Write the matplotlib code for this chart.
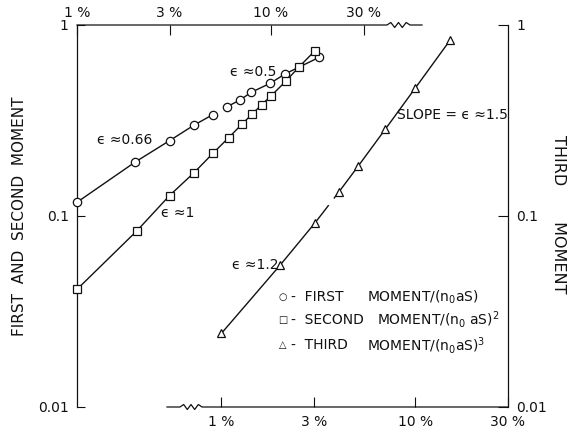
import matplotlib
matplotlib.use("Agg")
import matplotlib.pyplot as plt
import numpy as np
from matplotlib.lines import Line2D
from matplotlib.ticker import NullLocator

# ---------------- data ----------------
first_x = [1.0, 2.0, 3.0, 4.0, 5.0, 5.9, 6.95, 7.9, 9.9, 11.8, 17.7]
first_y = [0.118, 0.192, 0.248, 0.2985, 0.339, 0.372, 0.406, 0.444, 0.495, 0.554, 0.677]

second_x = [1.0, 2.03, 3.0, 4.01, 5.04, 6.05, 7.09, 7.98, 8.96, 10.0, 11.9, 13.9, 16.8]
second_y = [0.0413, 0.0834, 0.128, 0.1685, 0.2138, 0.257, 0.303, 0.341, 0.383, 0.425,
            0.507, 0.601, 0.731]

third_x = [1.0, 2.01, 3.04, 4.04, 5.08, 6.98, 9.96, 15.1]
third_y = [0.0243, 0.0554, 0.0922, 0.134, 0.183, 0.284, 0.466, 0.834]

top_ticks = [1, 3, 10, 30]
top_labels = ["1 %", "3 %", "10 %", "30 %"]
bottom_ticks = [1, 3, 10, 30]
bottom_labels = ["1 %", "3 %", "10 %", "30 %"]
y_ticks = [0.01, 0.1, 1]
y_labels = ["0.01", "0.1", "1"]

# ---------------- layout ----------------
W, H = 572, 428
fig = plt.figure(figsize=(W / 100, H / 100), dpi=100)
fig.patch.set_facecolor("white")

def fx(px):
    return px / W

def fy(py):
    return 1 - py / H

L, R, T, B = 77, 508, 25, 407
rect = [fx(L), fy(B), (R - L) / W, (B - T) / H]
decades_x = (R - L) / 194.0

FS = 10
black = "#111111"

# primary axes: first and second moment (top x-axis, left y-axis)
ax = fig.add_axes(rect)
ax.set_xscale("log")
ax.set_yscale("log")
ax.set_xlim(1, 10 ** decades_x)
ax.set_ylim(0.01, 1)
ax.xaxis.tick_top()
ax.set_xticks(top_ticks)
ax.set_xticklabels(top_labels)
ax.set_yticks(y_ticks)
ax.set_yticklabels(y_labels)
ax.xaxis.set_minor_locator(NullLocator())
ax.yaxis.set_minor_locator(NullLocator())
ax.tick_params(axis="x", which="both", direction="in", length=7, width=0.8,
               top=True, bottom=False, labeltop=True, labelbottom=False,
               labelsize=FS, pad=3.5, colors=black)
ax.tick_params(axis="y", which="both", direction="in", length=6, width=0.8,
               left=True, right=False, labelsize=FS, pad=6, colors=black)
ax.spines["top"].set_visible(False)
ax.spines["bottom"].set_visible(False)
for s in ("left", "right"):
    ax.spines[s].set_linewidth(0.9)
    ax.spines[s].set_color(black)

# secondary axes: third moment (bottom x-axis, right y-axis)
ax3 = fig.add_axes(rect)
ax3.patch.set_visible(False)
ax3.set_xscale("log")
ax3.set_yscale("log")
ax3.set_xlim(30 / 10 ** decades_x, 30)
ax3.set_ylim(0.01, 1)
ax3.xaxis.tick_bottom()
ax3.yaxis.tick_right()
ax3.set_xticks(bottom_ticks)
ax3.set_xticklabels(bottom_labels)
ax3.set_yticks(y_ticks)
ax3.set_yticklabels(y_labels)
ax3.xaxis.set_minor_locator(NullLocator())
ax3.yaxis.set_minor_locator(NullLocator())
ax3.tick_params(axis="x", which="both", direction="in", length=7, width=0.8,
                labelsize=FS, pad=5.5, colors=black)
ax3.tick_params(axis="y", which="both", direction="in", length=7, width=0.8,
                labelsize=FS, pad=6, colors=black)
for s in ax3.spines.values():
    s.set_visible(False)

# ---------------- data marks ----------------
lw = 1.0
# first moment: two line segments (gap between 5th and 6th points)
ax.plot(first_x[:5], first_y[:5], color=black, lw=lw, zorder=2, clip_on=False)
ax.plot(first_x[5:], first_y[5:], color=black, lw=lw, zorder=2, clip_on=False)
ax.plot(first_x, first_y, ls="none", marker="o", ms=6, mfc="white", mec=black,
        mew=0.9, zorder=3, clip_on=False)

# second moment
ax.plot(second_x, second_y, color=black, lw=lw, zorder=2, clip_on=False)
ax.plot(second_x, second_y, ls="none", marker="s", ms=5.5, mfc="white", mec=black,
        mew=0.9, zorder=3, clip_on=False)

# third moment: small break in the line between 3rd and 4th points
lx = np.log10(third_x)
ly = np.log10(third_y)
def interp(f):
    return 10 ** (lx[2] + f * (lx[3] - lx[2])), 10 ** (ly[2] + f * (ly[3] - ly[2]))
g0x, g0y = interp(0.55)
g1x, g1y = interp(0.8)
ax3.plot(list(third_x[:3]) + [g0x], list(third_y[:3]) + [g0y], color=black, lw=lw, zorder=2)
ax3.plot([g1x] + list(third_x[3:]), [g1y] + list(third_y[3:]), color=black, lw=lw, zorder=2)
ax3.plot(third_x, third_y, ls="none", marker="^", ms=5.5, mfc="white", mec=black,
         mew=0.9, zorder=3, clip_on=False)

# ---------------- broken axis lines ----------------
def broken_line(axis, y, x0, z0, z1, x1, amp):
    n = 6
    zx = np.linspace(z0, z1, n + 1)
    zy = np.array([y] + [y + (amp if i % 2 == 0 else -amp) for i in range(n - 1)] + [y])
    xs = np.concatenate([[x0], zx, [x1]])
    ys = np.concatenate([[y], zy, [y]])
    axis.add_line(Line2D(xs, ys, transform=axis.transAxes, color=black, lw=0.9,
                         clip_on=False))

amp = 2.5 / (B - T)
broken_line(ax, 1.0, 0.0, (387 - L) / (R - L), (410 - L) / (R - L), (422 - L) / (R - L), amp)
broken_line(ax, 0.0, (167 - L) / (R - L), (180 - L) / (R - L), (202 - L) / (R - L), 1.0, amp)

# ---------------- annotations ----------------
def t(px, py, s, **kw):
    kw.setdefault("fontsize", FS)
    kw.setdefault("ha", "center")
    kw.setdefault("va", "center")
    kw.setdefault("color", black)
    fig.text(fx(px), fy(py), s, **kw)

t(253, 72, "ϵ ≈0.5")
t(125, 140, "ϵ ≈0.66")
t(178, 213, "ϵ ≈1")
t(255, 265, "ϵ ≈1.2")
t(452, 115, "SLOPE = ϵ ≈1.5")

# legend-like text
t(283, 297, "○", fontsize=7)
t(283, 320, "□", fontsize=7)
t(283, 345, "△", fontsize=7)
t(291, 297, "-  FIRST", ha="left")
t(291, 320, "-  SECOND", ha="left")
t(291, 345, "-  THIRD", ha="left")
t(367, 297, r"MOMENT/($\mathregular{n_0}$aS)", ha="left")
t(377, 320, r"MOMENT/($\mathregular{n_0}$ aS)$\mathregular{^2}$", ha="left")
t(367, 345, r"MOMENT/($\mathregular{n_0}$aS)$\mathregular{^3}$", ha="left")

# axis titles
t(20, 216, "FIRST  AND  SECOND  MOMENT", rotation=90, fontsize=11)
t(558, 214, "THIRD       MOMENT", rotation=-90, fontsize=11.5)

fig.savefig("out.png", dpi=100, facecolor="white")
